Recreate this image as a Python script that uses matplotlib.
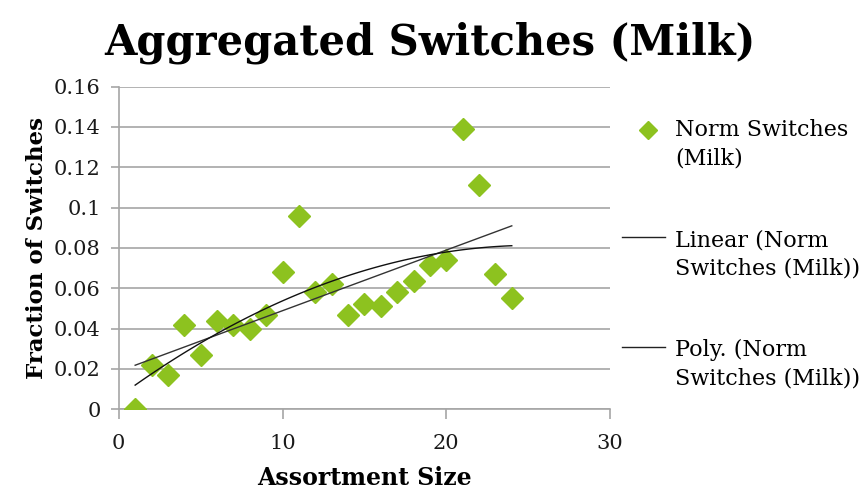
import numpy as np
import matplotlib
matplotlib.use("Agg")
import matplotlib.pyplot as plt
from matplotlib.lines import Line2D

# data
assortment = [1, 2, 3, 4, 5, 6, 7, 8, 9, 10, 11, 12,
              13, 14, 15, 16, 17, 18, 19, 20, 21, 22, 23, 24]
switches = [0.000, 0.022, 0.017, 0.042, 0.027, 0.044, 0.042, 0.040,
            0.047, 0.068, 0.096, 0.058, 0.062, 0.047, 0.052, 0.051,
            0.058, 0.0635, 0.0715, 0.074, 0.139, 0.111, 0.067, 0.055]
yticks = [0, 0.02, 0.04, 0.06, 0.08, 0.1, 0.12, 0.14, 0.16]
yticklabels = ["0", "0.02", "0.04", "0.06", "0.08", "0.1", "0.12", "0.14", "0.16"]
xticks = [0, 10, 20, 30]
legend_labels = [("Norm Switches", "(Milk)"),
                 ("Linear (Norm", "Switches (Milk))"),
                 ("Poly. (Norm", "Switches (Milk))")]

plt.rcParams["font.family"] = ["DejaVu Serif"]
green = "#8DC21F"
grid_grey = "#A6A6A6"

W, H = 867, 492
fig = plt.figure(figsize=(W / 100, H / 100), dpi=100)
ax = fig.add_axes([0.137, 0.168, 0.5666, 0.656])

x = np.array(assortment, dtype=float)
y = np.array(switches)

ax.plot(x, y, linestyle="none", marker="D", markersize=11,
        color=green, zorder=3)

# excel style trendlines
xs = np.linspace(x.min(), x.max(), 100)
lin = np.polyfit(x, y, 1)
poly = np.polyfit(x, y, 2)
ax.plot(xs, np.polyval(lin, xs), color="#333333", lw=1.0, zorder=4)
ax.plot(xs, np.polyval(poly, xs), color="#111111", lw=1.0, zorder=4)

ax.set_xlim(0, 30)
ax.set_ylim(0, 0.16)
ax.set_xticks(xticks)
ax.set_yticks(yticks)
ax.set_yticklabels(yticklabels)
ax.yaxis.grid(True, color=grid_grey, lw=1.2)
ax.set_axisbelow(True)
for s in ["top", "right"]:
    ax.spines[s].set_visible(False)
for s in ["left", "bottom"]:
    ax.spines[s].set_color(grid_grey)
    ax.spines[s].set_linewidth(1.2)
ax.tick_params(axis="both", colors=grid_grey, width=1.2,
               labelsize=15, labelcolor="#1a1a1a")
ax.tick_params(axis="y", length=6, pad=7)
ax.tick_params(axis="x", length=7, pad=11)

ax.set_xlabel("Assortment Size", fontsize=17, fontweight="bold", labelpad=9)
ax.set_ylabel("Fraction of Switches", fontsize=16.5, fontweight="bold", labelpad=4)

fig.text(0.496, 0.913, "Aggregated Switches (Milk)", fontsize=30,
         fontweight="bold", ha="center", va="center")

# legend drawn by hand so the keys sit on the first text line
def px(xp, yp):
    return xp / W, 1 - yp / H

key_rows = [130, 240, 350]
for i, (l1, l2) in enumerate(legend_labels):
    yr = key_rows[i]
    if i == 0:
        fig.add_artist(Line2D([px(648, yr)[0]], [px(648, yr)[1]], marker="D",
                              markersize=9, color=green, linestyle="none"))
    else:
        x0, y0 = px(622, yr - 3)
        x1, _ = px(665, yr - 3)
        fig.add_artist(Line2D([x0, x1], [y0, y0], color="#222222", lw=1.0))
    for j, line in enumerate((l1, l2)):
        tx, ty = px(675, yr + 28 * j)
        fig.text(tx, ty, line, fontsize=16, ha="left", va="center")

fig.savefig("out.png", dpi=100)
